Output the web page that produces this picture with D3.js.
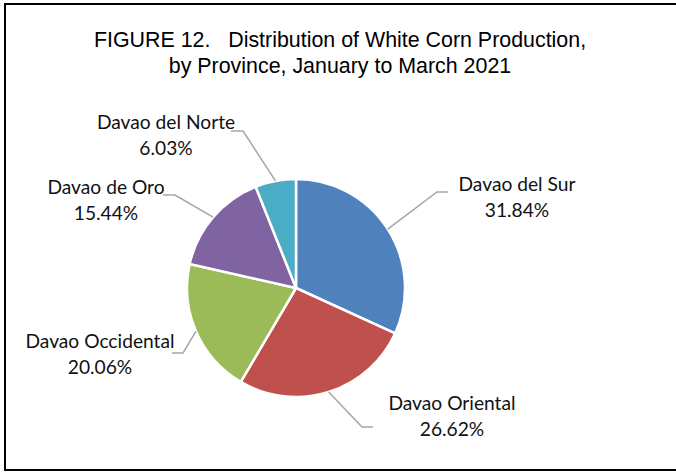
<!DOCTYPE html>
<html>
<head>
<meta charset="utf-8">
<script src="https://cdn.jsdelivr.net/npm/d3@7"></script>
<style>
  html, body { margin: 0; padding: 0; background: #fff; }
  svg { display: block; }
</style>
</head>
<body>
<svg id="chart" width="676" height="473"></svg>
<script>
// Provinces and their shares of white corn production (%), Jan–Mar 2021
const provinces = ["Davao del Sur", "Davao Oriental", "Davao Occidental", "Davao de Oro", "Davao del Norte"];
const shares = [31.84, 26.62, 20.06, 15.44, 6.03];
const sliceColors = ["#4F81BD", "#C0504D", "#9BBB59", "#8064A2", "#4BACC6"];
const titleLines = ["FIGURE 12.   Distribution of White Corn Production,", "by Province, January to March 2021"];

const W = 676, H = 473;
const cx = 296, cy = 288, radius = 109;

// Label placement: elbow of the leader line, end of its short horizontal run,
// and the text centre/baseline for each province's two-line label.
const labelLayout = {
  "Davao del Sur":    { elbow: [437, 192], end: [448, 192], tx: 517, ty: 191 },
  "Davao Oriental":   { elbow: [362, 427], end: [373, 427], tx: 452, ty: 410 },
  "Davao Occidental": { elbow: [183, 353], end: [172, 353], tx: 100, ty: 348 },
  "Davao de Oro":     { elbow: [175, 195], end: [163, 195], tx: 106, ty: 194 },
  "Davao del Norte":  { elbow: [243, 131], end: [231, 131], tx: 166, ty: 129 }
};

const svg = d3.select("#chart");

// Frame around the chart area (open on the right, the chart runs past the edge)
svg.append("path")
  .attr("d", `M ${W + 5} 4 H 5 V 470 H ${W + 5}`)
  .attr("fill", "none")
  .attr("stroke", "#000")
  .attr("stroke-width", 2);

// Title
const title = svg.append("text")
  .attr("text-anchor", "middle")
  .attr("font-family", "'Liberation Sans', Arial, sans-serif")
  .attr("font-size", 21.4)
  .attr("fill", "#000")
  .style("white-space", "pre");
titleLines.forEach((line, i) => {
  title.append("tspan")
    .attr("x", 340)
    .attr("y", 47 + i * 25.5)
    .text(line);
});

// Pie
const data = provinces.map((p, i) => ({ name: p, value: shares[i], color: sliceColors[i] }));
const pie = d3.pie().value(d => d.value).sort(null);
const arcs = pie(data);
const arc = d3.arc().innerRadius(0).outerRadius(radius);

const g = svg.append("g").attr("transform", `translate(${cx},${cy})`);
g.selectAll("path.slice")
  .data(arcs)
  .join("path")
  .attr("class", "slice")
  .attr("d", arc)
  .attr("fill", d => d.data.color)
  .attr("stroke", "#fff")
  .attr("stroke-width", 2.5)
  .attr("stroke-linejoin", "round");

// Leader lines: from slice mid-angle on the rim to the label
const edge = a => [cx + radius * Math.sin(a), cy - radius * Math.cos(a)];
svg.selectAll("polyline.leader")
  .data(arcs)
  .join("polyline")
  .attr("class", "leader")
  .attr("points", d => {
    const mid = (d.startAngle + d.endAngle) / 2;
    const L = labelLayout[d.data.name];
    return [edge(mid), L.elbow, L.end].map(p => p.join(",")).join(" ");
  })
  .attr("fill", "none")
  .attr("stroke", "#A6A6A6")
  .attr("stroke-width", 1.5);

// Data labels: province name and percent share
const labels = svg.selectAll("text.label")
  .data(arcs)
  .join("text")
  .attr("class", "label")
  .attr("text-anchor", "middle")
  .attr("font-family", "Lato, 'Open Sans', sans-serif")
  .attr("font-size", 19.2)
  .attr("fill", "#111");
labels.append("tspan")
  .attr("x", d => labelLayout[d.data.name].tx)
  .attr("y", d => labelLayout[d.data.name].ty)
  .text(d => d.data.name);
labels.append("tspan")
  .attr("x", d => labelLayout[d.data.name].tx)
  .attr("y", d => labelLayout[d.data.name].ty + 26)
  .text(d => d3.format(".2f")(d.data.value) + "%");
</script>
</body>
</html>
